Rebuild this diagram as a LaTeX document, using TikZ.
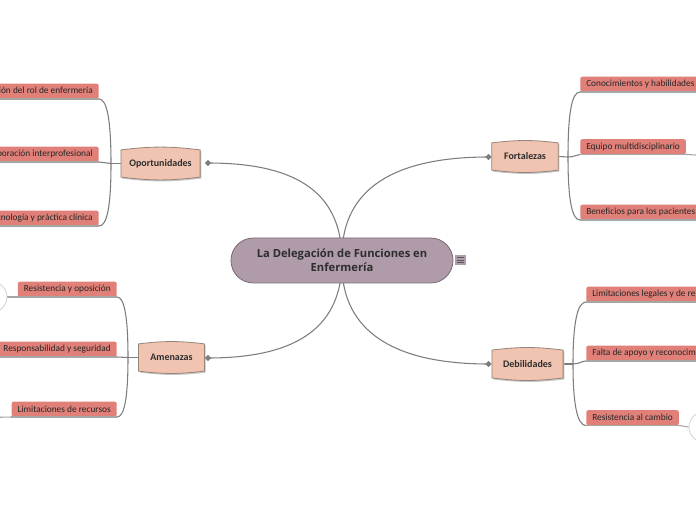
\documentclass[tikz,border=0pt]{standalone}
\usepackage{fontspec}
\setmainfont{Carlito}
\newfontfamily\titlefont{Open Sans}
\usetikzlibrary{calc,shapes.geometric,backgrounds}
\definecolor{centerfill}{RGB}{176,155,171}
\definecolor{centerdraw}{RGB}{118,108,116}
\definecolor{branchfill}{RGB}{240,196,177}
\definecolor{branchdraw}{RGB}{150,132,122}
\definecolor{leaffill}{RGB}{224,128,121}
\definecolor{linecol}{RGB}{125,125,125}
\definecolor{textcol}{RGB}{45,45,45}
\begin{document}
\begin{tikzpicture}[x=0.75pt,y=-0.75pt,
  leaf/.style={fill=leaffill, rounded corners=1.5pt, inner xsep=4.5pt, inner ysep=0pt,
    minimum height=11.25pt, font=\fontsize{7}{8}\selectfont, text=black!85},
  branch/.style={inner sep=0pt, font=\bfseries\fontsize{7.5}{8}\selectfont, text=textcol},
  hub/.style={fill=centerfill, draw=centerdraw, line width=0.6pt, rounded corners=16.8pt,
    align=center, text=textcol, font=\titlefont\bfseries\fontsize{8.4}{10.5}\selectfont},
  conn/.style={draw=linecol, line width=0.8pt},
  base/.style={draw=black!35, line width=0.8pt},
  dmark/.style={diamond, fill=linecol, inner sep=0pt, minimum size=5pt},
  ghost/.style={circle, draw=black!18, fill=white, line width=0.6pt, minimum size=22.5pt, inner sep=0pt},
  bshape/.style={fill=branchfill, draw=branchdraw, line width=0.6pt},
  bshadow/.style={fill=black!22}]
\useasboundingbox (0,0) rectangle (696,520);
\clip (0,0) rectangle (696,520);

% central topic
\node[hub, minimum width=166.5pt, minimum height=33.75pt] (c) at (342,260.5)
  {La Delegación de Funciones en\\Enfermería};
\node[fill=centerfill, minimum size=8.2pt, inner sep=0pt] (icon) at (460.5,260) {};
\draw[black!65, line width=0.6pt] ($(icon.center)+(-2.6pt,-1.9pt)$) -- ++(5.2pt,0)
  ($(icon.center)+(-2.6pt,0)$) -- ++(5.2pt,0)
  ($(icon.center)+(-2.6pt,1.9pt)$) -- ++(5.2pt,0);

% main branches
\node[branch, minimum width=59pt, minimum height=20pt] (opp) at (160.5,163.5) {Oportunidades};
\node[branch, minimum width=49.5pt, minimum height=20pt] (fort) at (525,156.5) {Fortalezas};
\node[branch, minimum width=49pt, minimum height=20pt] (amen) at (171.5,357.5) {Amenazas};
\node[branch, minimum width=53pt, minimum height=20.5pt] (deb) at (527.5,364) {Debilidades};

\node[dmark] (dopp) at (208,163) {};
\node[dmark] (dfort) at (488.5,157) {};
\node[dmark] (damen) at (208,358) {};
\node[dmark] (ddeb) at (488.5,364) {};

% leaves
\node[leaf, anchor=south east] (o1) at (99,99) {Ampliación del rol de enfermería};
\node[leaf, anchor=south east] (o2) at (99,162) {Colaboración interprofesional};
\node[leaf, anchor=south east] (o3) at (99,226) {Tecnología y práctica clínica};

\node[leaf, anchor=south east] (a1) at (117,297) {Resistencia y oposición};
\node[leaf, anchor=south east] (a2) at (117,357) {Responsabilidad y seguridad};
\node[leaf, anchor=south east] (a3) at (117,417) {Limitaciones de recursos};

\node[leaf, anchor=south west] (f1) at (580,92) {Conocimientos y habilidades\hspace{10pt}};
\node[leaf, anchor=south west] (f2) at (580,154.5) {Equipo multidisciplinario};
\node[leaf, anchor=south west] (f3) at (580,220) {Beneficios para los pacientes\hspace{10pt}};

\node[leaf, anchor=south west] (d1) at (586,302) {Limitaciones legales y de regulación};
\node[leaf, anchor=south west] (d2) at (586,361) {Falta de apoyo y reconocimiento};
\node[leaf, anchor=south west] (d3) at (586,425.5) {Resistencia al cambio};

% collapsed sub-topics at the edges
\node[ghost] (gl) at (-8,297) {};
\node[ghost] (gr) at (704,427) {};
\coordinate (a3end) at (-10,417.5);
\coordinate (o2end) at (-10,163);
\coordinate (f2end) at (706,155.5);

% junctions
\coordinate (jopp) at (111,163.5);
\coordinate (jamen) at (128,357.5);
\coordinate (jfort) at (568,157);
\coordinate (jdeb) at (573,364);

\begin{scope}[on background layer]
  \fill[white] (0,0) rectangle (696,520);
  % central connectors
  \draw[conn] (dopp.center) .. controls (300,163) and (342,195) .. (c.center);
  \draw[conn] (dfort.center) .. controls (385,157) and (340,195) .. (c.center);
  \draw[conn] (damen.center) .. controls (300,358) and (342,325) .. (c.center);
  \draw[conn] (ddeb.center) .. controls (385,364) and (340,325) .. (c.center);
  % branch to leaves
  \draw[conn] (opp.west) -- (jopp);
  \draw[conn] (jopp) .. controls (111,120) and (107,99) .. (o1.south east);
  \draw[conn] (jopp) -- (o2.south east);
  \draw[conn] (jopp) .. controls (111,207) and (107,226) .. (o3.south east);
  \draw[conn] (amen.west) -- (jamen);
  \draw[conn] (jamen) .. controls (128,315) and (124,297) .. (a1.south east);
  \draw[conn] (jamen) -- (a2.south east);
  \draw[conn] (jamen) .. controls (128,400) and (124,417) .. (a3.south east);
  \draw[conn] (fort.east) -- (jfort);
  \draw[conn] (jfort) .. controls (568,112) and (572,92) .. (f1.south west);
  \draw[conn] (jfort) .. controls (574,157) and (576,155) .. (f2.south west);
  \draw[conn] (jfort) .. controls (568,200) and (572,220) .. (f3.south west);
  \draw[conn] (deb.east) -- (jdeb);
  \draw[conn] (jdeb) .. controls (573,320) and (578,302) .. (d1.south west);
  \draw[conn] (jdeb) .. controls (579,364) and (582,361) .. (d2.south west);
  \draw[conn] (jdeb) .. controls (573,408) and (578,425.5) .. (d3.south west);
  % continuation lines
  \draw[base] (a1.south east) -- (gl.east);
  \draw[base] (a3.south west) -- (a3end);
  \draw[base] (o2.south west) -- (o2end);
  \draw[base] (f2.south east) -- (f2end);
  \draw[base] (d3.south east) -- (gr.west);
  % branch shapes
  \foreach \n in {opp,fort,amen,deb}{
    \fill[bshadow] ([shift={(1.2,1.5)}]\n.north west) to[bend left=7] ([shift={(1.2,1.5)}]\n.north east)
      -- ([shift={(1.2,1.5)}]\n.south east) to[bend left=7] ([shift={(1.2,1.5)}]\n.south west) -- cycle;
    \filldraw[bshape] (\n.north west) to[bend left=7] (\n.north east)
      -- (\n.south east) to[bend left=7] (\n.south west) -- cycle;
  }
\end{scope}

% underlines of leaves
\foreach \n in {o1,o2,o3,a1,a2,a3,f1,f2,f3,d1,d2,d3}{
  \draw[base] (\n.south west) -- (\n.south east);
}
\end{tikzpicture}
\end{document}
